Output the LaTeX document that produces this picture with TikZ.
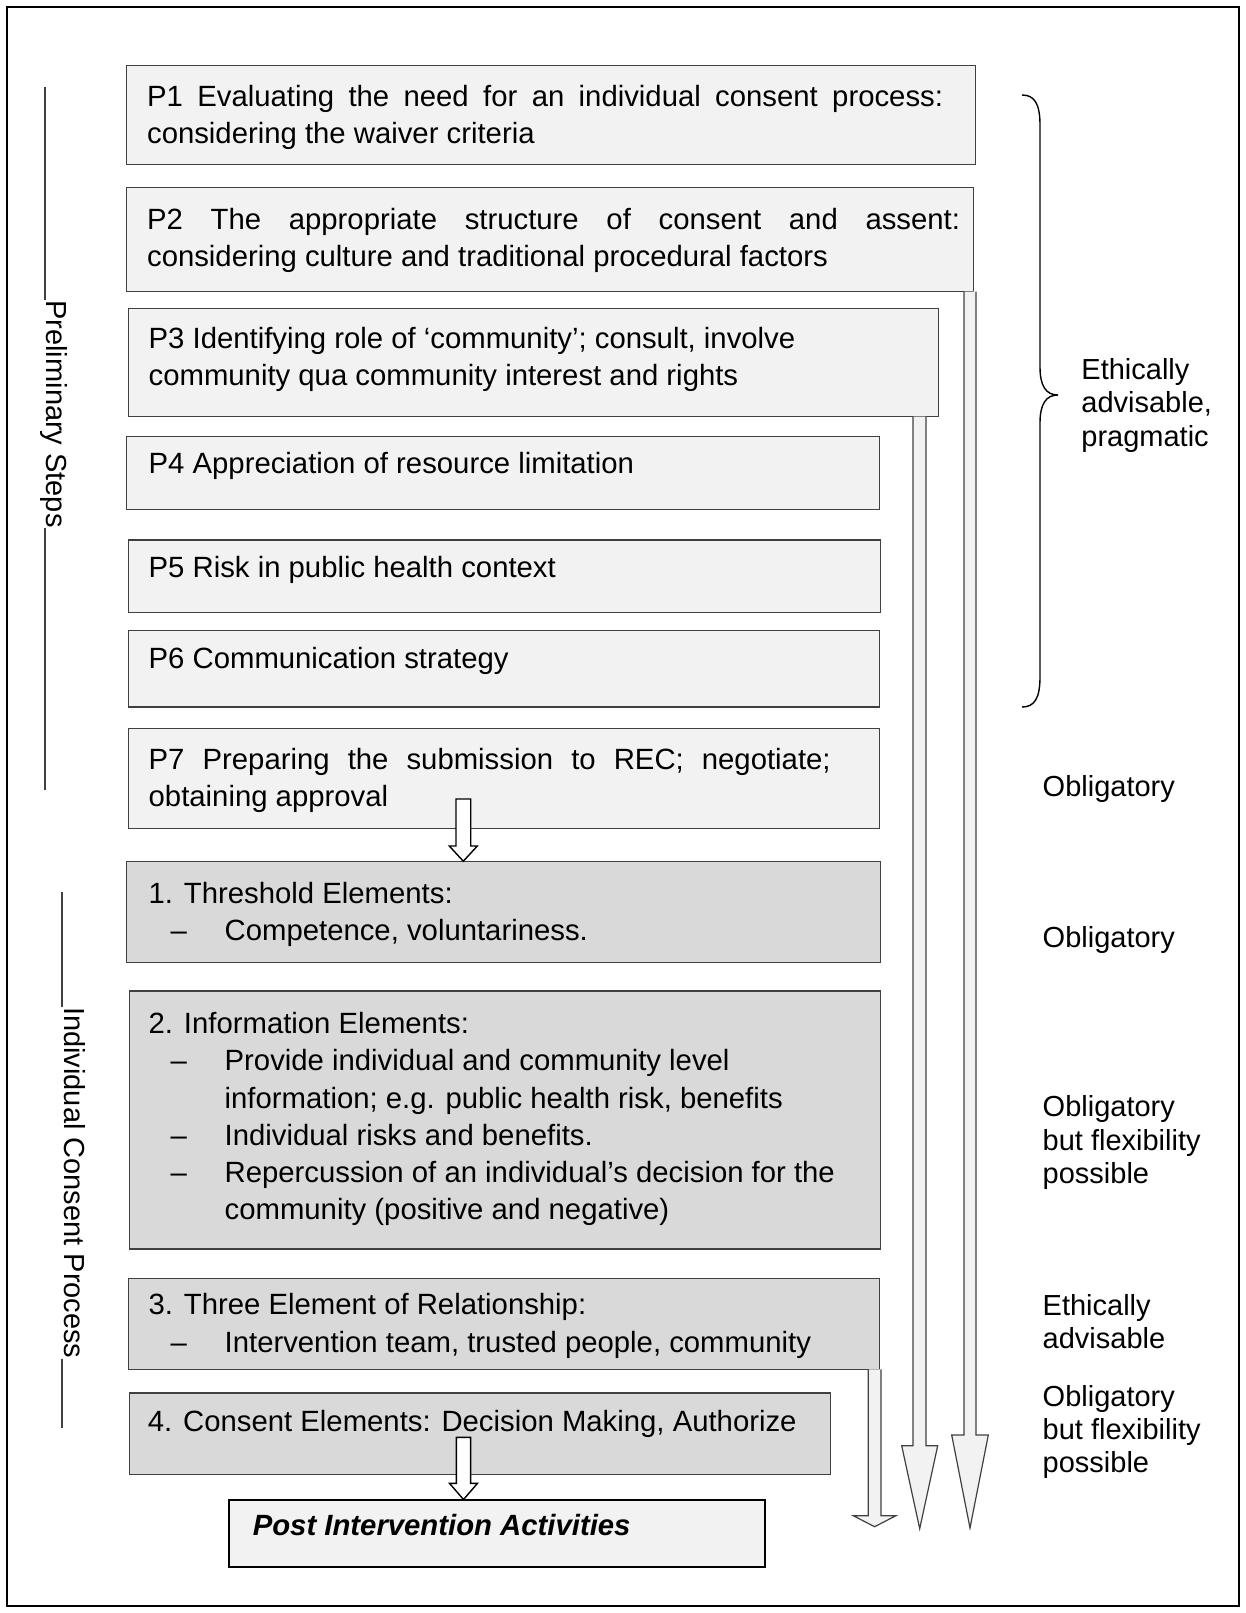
\documentclass[tikz,border=0pt]{standalone}
\usepackage{fontspec}
\setmainfont{Liberation Sans}
\usetikzlibrary{fit}
\definecolor{paleface}{HTML}{F2F2F2}
\definecolor{midface}{HTML}{D9D9D9}
\definecolor{edge}{HTML}{404040}
\newcommand\dashitem{\makebox[38pt][l]{\hspace*{11pt}–}}
\newcommand\contline{\hspace*{38pt}}
% a justified first line, spread to a given width
\newcommand\fullline[2]{\makebox[#1][s]{#2}}

\begin{document}
% multi-line texts are anchored at the baseline of their last line
\begin{tikzpicture}[x=0.5pt,y=-0.5pt,
  pbox/.style={draw=edge, fill=paleface, line width=0.65pt, inner sep=0pt, outer sep=0pt},
  cbox/.style={draw=edge, fill=midface, line width=0.65pt, inner sep=0pt, outer sep=0pt},
  postbox/.style={draw=black, fill=paleface, line width=1pt, inner sep=0pt, outer sep=0pt},
  boxtext/.style={anchor=base west, inner sep=0pt, align=left, font=\fontsize{14.65pt}{18.65pt}\selectfont},
  sidetext/.style={anchor=base west, inner sep=0pt, align=left, font=\fontsize{14.5pt}{16.7pt}\selectfont},
  sidelabel/.style={rotate=-90, anchor=base west, inner sep=0pt, font=\fontsize{14.5pt}{16.7pt}\selectfont},
  sideline/.style={draw=edge, line width=0.6pt},
  longarrow/.style={draw=edge, fill=paleface, line width=0.6pt, line join=miter},
  steparrow/.style={draw=black, fill=white, line width=0.7pt, line join=miter},
  bracepath/.style={draw=black, line width=0.7pt},
]
\useasboundingbox (0,0) rectangle (1246,1613);
\draw[line width=1pt] (7,7) rectangle (1239,1606);

% preliminary steps
\node[pbox, fit={(126.6,65.7) (975.4,164.3)}] (p1) {};
\node[pbox, fit={(126.6,187.3) (973.6,291.5)}] (p2) {};
\node[pbox, fit={(128.5,308.5) (938.4,416.7)}] (p3) {};
\node[pbox, fit={(126.6,436.3) (879.7,509.3)}] (p4) {};
\node[pbox, fit={(128.6,540) (880.8,612.2)}] (p5) {};
\node[pbox, fit={(128.6,630.7) (879.7,706.9)}] (p6) {};
\node[pbox, fit={(128.6,728.5) (879.7,828.3)}] (p7) {};

% individual consent process
\node[cbox, fit={(126.6,861.2) (880.8,962.3)}] (b1) {};
\node[cbox, fit={(129.5,991) (880.8,1249)}] (b2) {};
\node[cbox, fit={(128.5,1278.2) (879.7,1369.3)}] (b3) {};
\node[cbox, fit={(129.6,1393) (830.8,1474.4)}] (b4) {};
\node[postbox, fit={(229.4,1499.5) (764.8,1566.5)}] (post) {};

% box texts
\node[boxtext] (p1t) at (146.7,143.3) {\fullline{398pt}{P1 Evaluating the need for an individual consent process:}\\considering the waiver criteria};
\node[boxtext] (p2t) at (146.7,266.8) {\fullline{406.5pt}{P2 The appropriate structure of consent and assent:}\\considering culture and traditional procedural factors};
\node[boxtext] (p3t) at (148.3,385.6) {P3 Identifying role of ‘community’; consult, involve\\community qua community interest and rights};
\node[boxtext] (p4t) at (148.3,473.3) {P4 Appreciation of resource limitation};
\node[boxtext] (p5t) at (148.3,577) {P5 Risk in public health context};
\node[boxtext] (p6t) at (148.3,668) {P6 Communication strategy};
\node[boxtext] (p7t) at (148.3,806.3) {\fullline{341pt}{P7 Preparing the submission to REC; negotiate;}\\obtaining approval};
\node[boxtext] (b1t) at (148.3,940.6) {1. Threshold Elements:\\\dashitem Competence, voluntariness.};
\node[boxtext] (b2t) at (148.3,1219.9) {2. Information Elements:\\
  \dashitem Provide individual and community level\\
  \contline information; e.g. public health risk, benefits\\
  \dashitem Individual risks and benefits.\\
  \dashitem Repercussion of an individual’s decision for the\\
  \contline community (positive and negative)};
\node[boxtext] (b3t) at (148.3,1352) {3. Three Element of Relationship:\\\dashitem Intervention team, trusted people, community};
\node[boxtext] (b4t) at (147.5,1431.7) {4. Consent Elements: Decision Making, Authorize};
\node[boxtext, font=\fontsize{14.65pt}{18.65pt}\selectfont\bfseries\itshape] (postt) at (252.4,1535.7) {Post Intervention Activities};

% long block arrows
\filldraw[longarrow] (964,0 |- p2.south) -- (964,1435) -- (951.7,1435) -- (970,1528)
  -- (988.3,1435) -- (976,1435) -- (976,0 |- p2.south);
\filldraw[longarrow] (913,0 |- p3.south) -- (913,1445.7) -- (901.7,1445.7) -- (919.7,1528.7)
  -- (937.7,1445.7) -- (926,1445.7) -- (926,0 |- p3.south);
\filldraw[longarrow] (868.3,0 |- b3.south) -- (868.3,1515.7) -- (853.3,1515.7) -- (874.6,1526.7)
  -- (895.9,1515.7) -- (881,1515.7) -- (881,0 |- b3.south);

% step arrows
\filldraw[steparrow] (456,799) -- (456,846) -- (449.3,846) -- (463.3,0 |- b1.north)
  -- (477.3,846) -- (470.7,846) -- (470.7,799) -- cycle;
\filldraw[steparrow] (456.4,1437.3) -- (456.4,1483.3) -- (449.5,1483.3) -- (463.5,0 |- post.north)
  -- (477.5,1483.3) -- (470.6,1483.3) -- (470.6,1437.3) -- cycle;

% brace over P1--P6
\draw[bracepath] (1022,95) .. controls (1034,95) and (1040,103) .. (1040,125)
  -- (1040,367) .. controls (1040,386) and (1046,395) .. (1058,395)
  .. controls (1046,395) and (1040,404) .. (1040,423)
  -- (1040,677) .. controls (1040,699) and (1034,707) .. (1022,707);

% right-hand labels
\node[sidetext] (lab1) at (1081,446) {Ethically\\advisable,\\pragmatic};
\node[sidetext] (lab2) at (1042.3,796.7) {Obligatory};
\node[sidetext] (lab3) at (1042.3,947.5) {Obligatory};
\node[sidetext] (lab4) at (1042.3,1183.5) {Obligatory\\but flexibility\\possible};
\node[sidetext] (lab5) at (1042.3,1348.4) {Ethically\\advisable};
\node[sidetext] (lab6) at (1042.3,1472.8) {Obligatory\\but flexibility\\possible};

% left-hand section labels
\node[sidelabel] (prelim) at (47,300) {Preliminary Steps};
\draw[sideline] (45,87) -- (45,0 |- prelim.west);
\draw[sideline] (45,0 |- prelim.east) -- (45,790);
\node[sidelabel] (indiv) at (64,1006.7) {Individual Consent Process};
\draw[sideline] (62,892) -- (62,0 |- indiv.west);
\draw[sideline] (62,0 |- indiv.east) -- (62,1428);
\end{tikzpicture}
\end{document}
